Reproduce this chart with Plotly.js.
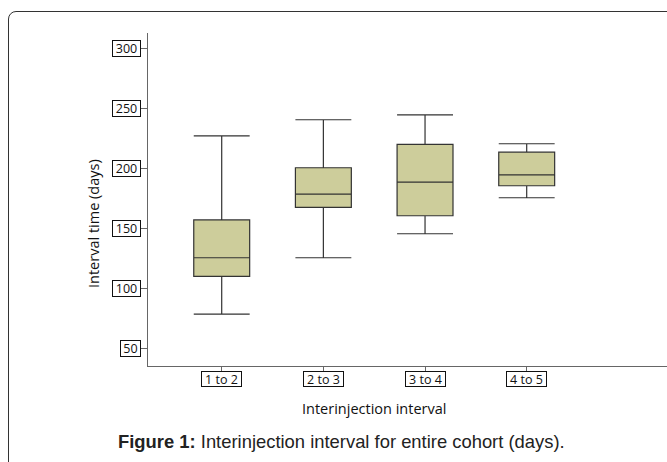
<!DOCTYPE html>
<html>
<head>
<meta charset="utf-8">
<script src="https://cdn.plot.ly/plotly-3.0.1.min.js"></script>
<style>
html,body{margin:0;padding:0;background:#fff;overflow:hidden;width:667px;height:462px;}
#frame{position:absolute;left:8px;top:11px;width:700px;height:500px;border:1.5px solid #333;border-radius:8px;}
#chart{position:absolute;left:0;top:0;width:667px;height:462px;}
</style>
</head>
<body>
<div id="frame"></div>
<div id="chart"></div>
<script>
// Data
var categories = ["1 to 2", "2 to 3", "3 to 4", "4 to 5"];
var lowerWhisker = [79, 126, 146, 176];
var q1Values = [110.5, 168, 161, 186];
var medianValues = [126, 179, 189, 195];
var q3Values = [157.5, 201, 220.5, 214];
var upperWhisker = [227.5, 241, 245, 221];
var yTickValues = [50, 100, 150, 200, 250, 300];
var yTickLabels = ["50", "100", "150", "200", "250", "300"];
var xTitle = "Interinjection interval";
var yTitle = "Interval time (days)";
var caption = "<b>Figure 1:</b> Interinjection interval for entire cohort (days).";

var tickFont = {family: "Open Sans", size: 12.5, color: "#111"};

var trace = {
  type: "box",
  x: categories,
  q1: q1Values,
  median: medianValues,
  q3: q3Values,
  lowerfence: lowerWhisker,
  upperfence: upperWhisker,
  fillcolor: "#cdcd9b",
  line: {color: "#333333", width: 1.2},
  whiskerwidth: 1,
  boxpoints: false,
  hoverinfo: "skip",
  showlegend: false
};

var annotations = [];
yTickValues.forEach(function (v, i) {
  annotations.push({
    xref: "paper", yref: "y", x: -7 / 519, y: v,
    xanchor: "right", yanchor: "middle",
    text: yTickLabels[i], showarrow: false,
    width: yTickLabels[i].length > 2 ? 27 : 19, height: 15,
    font: tickFont, bordercolor: "#111", borderwidth: 1, borderpad: 0,
    bgcolor: "#fff"
  });
});
categories.forEach(function (c) {
  annotations.push({
    xref: "x", yref: "paper", x: c, y: -5 / 333,
    xanchor: "center", yanchor: "top",
    text: c, showarrow: false,
    width: 39, height: 14,
    font: tickFont, bordercolor: "#111", borderwidth: 1, borderpad: 0,
    bgcolor: "#fff"
  });
});
annotations.push({
  xref: "x", yref: "paper", x: 1.5, y: -31 / 333,
  xanchor: "center", yanchor: "top",
  text: xTitle, showarrow: false,
  font: {family: "Open Sans", size: 14.5, color: "#111"}
});
annotations.push({
  xref: "paper", yref: "paper", x: (93 - 148) / 519, y: (366 - 224) / 333,
  xanchor: "center", yanchor: "middle", textangle: -90,
  text: yTitle, showarrow: false,
  font: {family: "Open Sans", size: 14.5, color: "#111"}
});
annotations.push({
  xref: "paper", yref: "paper", x: (341 - 148) / 519, y: -(441 - 366) / 333,
  xanchor: "center", yanchor: "middle",
  text: caption, showarrow: false,
  font: {family: "Liberation Sans, Arial", size: 18.4, color: "#222"}
});

var layout = {
  width: 667, height: 462,
  margin: {l: 148, r: 0, t: 33, b: 96},
  paper_bgcolor: "rgba(0,0,0,0)",
  plot_bgcolor: "rgba(0,0,0,0)",
  boxgap: 0.45,
  boxgroupgap: 0,
  xaxis: {
    type: "category",
    range: [-0.725, 4.38],
    showline: true, linecolor: "#666", linewidth: 1.2,
    ticks: "outside", ticklen: 4, tickcolor: "#666",
    showticklabels: false, showgrid: false, zeroline: false,
    fixedrange: true
  },
  yaxis: {
    range: [35.8, 313.3],
    tickvals: yTickValues,
    showline: true, linecolor: "#666", linewidth: 1.2,
    ticks: "outside", ticklen: 6, tickcolor: "#666",
    showticklabels: false, showgrid: false, zeroline: false,
    fixedrange: true
  },
  annotations: annotations
};

Plotly.newPlot("chart", [trace], layout, {displayModeBar: false, staticPlot: true});
</script>
</body>
</html>
